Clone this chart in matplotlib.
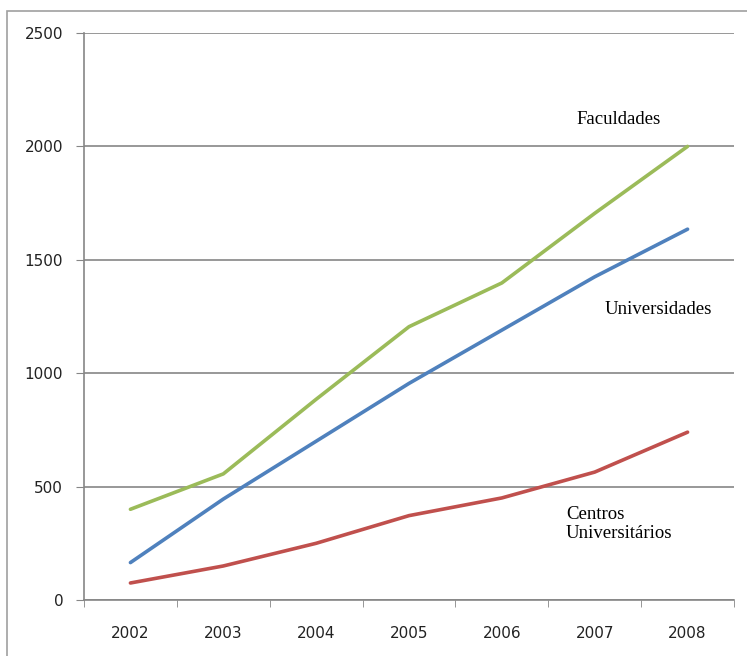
import matplotlib
matplotlib.use("Agg")
import matplotlib.pyplot as plt
from matplotlib.patches import Rectangle

years = ["2002", "2003", "2004", "2005", "2006", "2007", "2008"]
faculdades = [400, 556, 885, 1205, 1398, 1705, 2000]
universidades = [165, 445, 700, 955, 1190, 1425, 1635]
centros = [75, 150, 250, 372, 450, 564, 740]
y_ticks = [0, 500, 1000, 1500, 2000, 2500]

W, H = 747, 656
fig = plt.figure(figsize=(W / 100, H / 100), dpi=100)
ax = fig.add_axes([84 / W, 1 - 600 / H, (734 - 84) / W, (600 - 33) / H])

x = list(range(len(years)))
ax.plot(x, faculdades, color="#9BBB59", lw=2.6, solid_capstyle="round")
ax.plot(x, universidades, color="#4F81BD", lw=2.6, solid_capstyle="round")
ax.plot(x, centros, color="#C0504D", lw=2.6, solid_capstyle="round")

ax.set_xlim(-0.5, len(years) - 0.5)
ax.set_ylim(0, 2500)
ax.set_yticks(y_ticks)
ax.set_yticklabels([str(v) for v in y_ticks], fontsize=11, family="DejaVu Sans", color="#222222")
ax.set_xticks(x)
ax.set_xticklabels(years, fontsize=11, family="DejaVu Sans", color="#222222")
ax.tick_params(axis="x", length=0, pad=19)
ax.set_xticks([i - 0.5 for i in range(len(years) + 1)], minor=True)
ax.tick_params(axis="x", which="minor", length=5, color="#868686", direction="out")
ax.tick_params(axis="y", length=6, color="#868686", direction="out", pad=9)
ax.yaxis.grid(True, color="#868686", lw=1.2)
ax.set_axisbelow(True)
for s in ["top", "right"]:
    ax.spines[s].set_visible(False)
for s in ["left", "bottom"]:
    ax.spines[s].set_color("#868686")
    ax.spines[s].set_linewidth(1.2)

serif = ["Liberation Serif", "DejaVu Serif"]
fig.text(619 / W, 1 - 119 / H, "Faculdades", ha="center", va="center", fontsize=13.5, family=serif)
fig.text(658 / W, 1 - 310 / H, "Universidades", ha="center", va="center", fontsize=13.5, family=serif)
fig.text(566 / W, 1 - 524 / H, "Centros\nUniversitários", ha="left", va="center",
         fontsize=13.5, family=serif, linespacing=1.2)

fig.patches.append(Rectangle((7 / W, -0.1), 1.2, 1.1 - 11 / H, transform=fig.transFigure,
                             fill=False, edgecolor="#A0A0A0", lw=1.2))

fig.savefig("out.png", dpi=100)
